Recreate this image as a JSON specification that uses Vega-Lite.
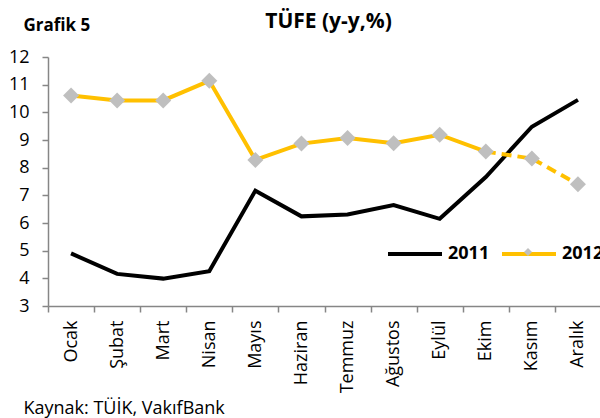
{
  "$schema": "https://vega.github.io/schema/vega-lite/v6.json",
  "width": 553,
  "height": 249,
  "autosize": "none",
  "padding": {"left": 48, "top": 57, "right": 0, "bottom": 112},
  "background": "white",
  "config": {
    "view": {"stroke": null},
    "font": "Open Sans",
    "axis": {"grid": false, "domainColor": "#868686", "tickColor": "#868686", "domainWidth": 1.5, "tickWidth": 1.5, "labelColor": "#000000", "labelFont": "Open Sans", "titleFont": "Open Sans", "titleColor": "#000000"}
  },
  "data": {
    "values": [
      {"ay": "Ocak", "seri": "2011", "deger": 4.90},
      {"ay": "Şubat", "seri": "2011", "deger": 4.16},
      {"ay": "Mart", "seri": "2011", "deger": 3.99},
      {"ay": "Nisan", "seri": "2011", "deger": 4.26},
      {"ay": "Mayıs", "seri": "2011", "deger": 7.17},
      {"ay": "Haziran", "seri": "2011", "deger": 6.24},
      {"ay": "Temmuz", "seri": "2011", "deger": 6.31},
      {"ay": "Ağustos", "seri": "2011", "deger": 6.65},
      {"ay": "Eylül", "seri": "2011", "deger": 6.15},
      {"ay": "Ekim", "seri": "2011", "deger": 7.66},
      {"ay": "Kasım", "seri": "2011", "deger": 9.48},
      {"ay": "Aralık", "seri": "2011", "deger": 10.45},
      {"ay": "Ocak", "seri": "2012", "deger": 10.61},
      {"ay": "Şubat", "seri": "2012", "deger": 10.43},
      {"ay": "Mart", "seri": "2012", "deger": 10.43},
      {"ay": "Nisan", "seri": "2012", "deger": 11.14},
      {"ay": "Mayıs", "seri": "2012", "deger": 8.28},
      {"ay": "Haziran", "seri": "2012", "deger": 8.87},
      {"ay": "Temmuz", "seri": "2012", "deger": 9.07},
      {"ay": "Ağustos", "seri": "2012", "deger": 8.88},
      {"ay": "Eylül", "seri": "2012", "deger": 9.19},
      {"ay": "Ekim", "seri": "2012", "deger": 8.58},
      {"ay": "Kasım", "seri": "2012", "deger": 8.33},
      {"ay": "Aralık", "seri": "2012", "deger": 7.40}
    ]
  },
  "encoding": {
    "x": {
      "field": "ay",
      "type": "nominal",
      "sort": ["Ocak", "Şubat", "Mart", "Nisan", "Mayıs", "Haziran", "Temmuz", "Ağustos", "Eylül", "Ekim", "Kasım", "Aralık"],
      "scale": {"type": "band", "paddingInner": 0, "paddingOuter": 0},
      "axis": {
        "title": "Kaynak: TÜİK, VakıfBank",
        "titleX": -25,
        "titleY": 107,
        "titleAlign": "left",
        "titleAnchor": null,
        "titleBaseline": "alphabetic",
        "titleFontSize": 18,
        "titleFontWeight": "normal",
        "labelAngle": -90,
        "labelAlign": "right",
        "labelBaseline": "middle",
        "labelFontSize": 18,
        "labelPadding": 8,
        "tickSize": 6,
        "tickBand": "extent"
      }
    },
    "y": {
      "field": "deger",
      "type": "quantitative",
      "scale": {"domain": [3, 12], "nice": false, "zero": false},
      "axis": {
        "values": [3, 4, 5, 6, 7, 8, 9, 10, 11, 12],
        "title": "Grafik 5",
        "titleAngle": 0,
        "titleX": -25,
        "titleY": -27,
        "titleAlign": "left",
        "titleAnchor": null,
        "titleBaseline": "alphabetic",
        "titleFontSize": 17,
        "titleFontWeight": "bold",
        "labelFontSize": 18,
        "labelPadding": 13,
        "tickSize": 6
      }
    }
  },
  "layer": [
    {
      "layer": [
        {
          "transform": [{"filter": "datum.seri == '2011'"}],
          "mark": {"type": "line", "strokeWidth": 4, "strokeCap": "butt", "strokeJoin": "miter"},
          "encoding": {
            "color": {
              "field": "seri",
              "type": "nominal",
              "scale": {"domain": ["2011", "2012"], "range": ["#000000", "#FFC000"]},
              "legend": {
                "title": null,
                "orient": "none",
                "legendX": 338,
                "legendY": 168,
                "direction": "horizontal",
                "padding": 0,
                "symbolType": "stroke",
                "symbolSize": 2916,
                "symbolStrokeWidth": 4,
                "labelFontSize": 18,
                "labelFontWeight": "bold",
                "labelColor": "#000000",
                "labelFont": "Open Sans",
                "labelOffset": 4,
                "columnPadding": 4
              }
            }
          }
        },
        {
          "transform": [{"filter": "datum.seri == '2012' && indexof(['Kasım', 'Aralık'], datum.ay) < 0"}],
          "mark": {"type": "line", "strokeWidth": 4, "strokeCap": "butt", "strokeJoin": "miter"},
          "encoding": {
            "color": {"field": "seri", "type": "nominal"}
          }
        },
        {
          "transform": [{"filter": "datum.seri == '2012' && indexof(['Ekim', 'Kasım', 'Aralık'], datum.ay) >= 0"}],
          "mark": {"type": "line", "strokeWidth": 4, "strokeDash": [10, 6], "strokeCap": "butt", "color": "#FFC000"},
          "encoding": {}
        }
      ]
    },
    {
      "transform": [{"filter": "datum.seri == '2012'"}],
      "mark": {"type": "point", "shape": "diamond", "filled": true, "size": 256, "opacity": 1, "strokeWidth": 0},
      "encoding": {
        "y": {
          "field": "deger",
          "type": "quantitative",
          "scale": {"domain": [3, 12], "nice": false, "zero": false},
          "axis": {
            "orient": "right",
            "domain": false,
            "ticks": false,
            "labels": false,
            "title": "TÜFE (y-y,%)",
            "titleAngle": 0,
            "titleX": -273,
            "titleY": -30,
            "titleAlign": "center",
            "titleAnchor": null,
            "titleBaseline": "alphabetic",
            "titleFontSize": 21,
            "titleFontWeight": "bold"
          }
        },
        "fill": {
          "field": "seri",
          "type": "nominal",
          "scale": {"domain": ["2012"], "range": ["#BFBFBF"]},
          "legend": {
            "title": null,
            "orient": "none",
            "legendX": 476,
            "legendY": 191,
            "padding": 0,
            "symbolType": "diamond",
            "symbolSize": 64,
            "symbolStrokeWidth": 0,
            "symbolOpacity": 1,
            "labelOpacity": 0,
            "labelFontSize": 8
          }
        }
      }
    }
  ],
  "resolve": {"axis": {"y": "independent"}}
}
